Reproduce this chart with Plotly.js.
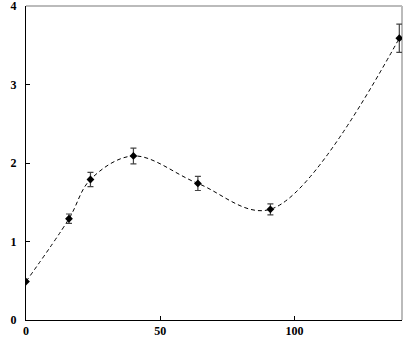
<!DOCTYPE html>
<html><head><meta charset="utf-8">
<script src="https://cdn.plot.ly/plotly-3.0.1.min.js"></script>
<style>html,body{margin:0;padding:0;background:#fff}#chart{width:409px;height:346px}</style>
</head><body><div id="chart"></div>
<script>
const xValues = [0, 16, 24, 40, 64, 91, 139];
const yValues = [0.49, 1.29, 1.79, 2.09, 1.74, 1.41, 3.59];
const yErrors = [0.0, 0.06, 0.09, 0.1, 0.09, 0.07, 0.18];
const xTicks = [0, 50, 100];
const yTicks = [0, 1, 2, 3, 4];

const tickFont = {family: 'Liberation Serif, DejaVu Serif, serif', size: 12, color: '#000', weight: 'bold'};

Plotly.newPlot('chart', [
  {x: xValues, y: yValues, type: 'scatter', mode: 'lines',
   line: {shape: 'spline', smoothing: 1, color: '#000', width: 1, dash: '4px,3px'},
   hoverinfo: 'skip', showlegend: false},
  {x: xValues, y: yValues, type: 'scatter', mode: 'markers',
   marker: {symbol: 'diamond', size: 6, color: '#000'},
   error_y: {type: 'data', array: yErrors, visible: true, color: '#444', thickness: 1.2, width: 3},
   showlegend: false}
], {
  width: 409, height: 346,
  margin: {l: 26, r: 7, t: 6, b: 26},
  paper_bgcolor: '#fff', plot_bgcolor: '#fff',
  xaxis: {range: [0, 140], tickvals: xTicks, ticktext: xTicks.map(String), ticks: 'inside', ticklen: 4,
    tickcolor: '#000', showline: true, linecolor: '#000', linewidth: 1, showgrid: false, zeroline: false,
    tickfont: tickFont},
  yaxis: {range: [0, 4], tickvals: yTicks, ticktext: yTicks.map(String), ticks: 'inside', ticklen: 4,
    tickcolor: '#000', showline: true, linecolor: '#000', linewidth: 1, showgrid: false, zeroline: false,
    tickfont: tickFont, ticklabelstandoff: 6, ticklabeloverflow: 'allow'},
  shapes: [
    {type: 'line', xref: 'paper', yref: 'paper', x0: 0, x1: 1, y0: 1, y1: 1, line: {color: '#bbb', width: 2}, layer: 'below'},
    {type: 'line', xref: 'paper', yref: 'paper', x0: 1, x1: 1, y0: 0, y1: 1, line: {color: '#bbb', width: 2}, layer: 'below'}
  ]
}, {displayModeBar: false, staticPlot: true});
</script></body></html>
